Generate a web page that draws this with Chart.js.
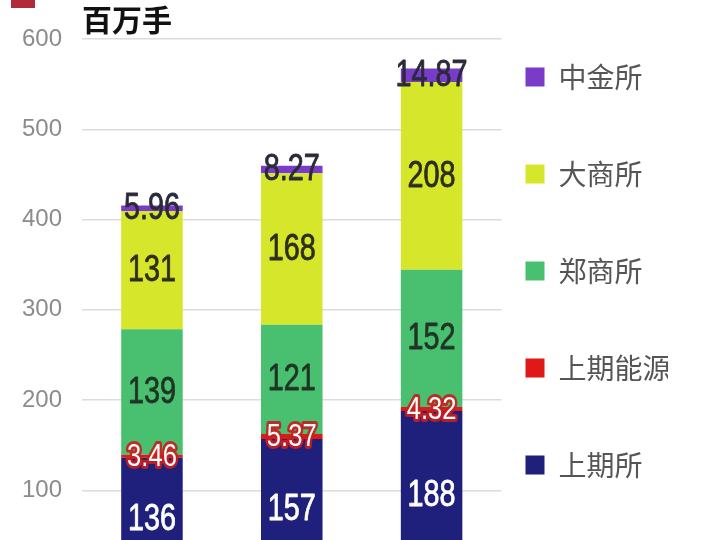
<!DOCTYPE html>
<html>
<head>
<meta charset="utf-8">
<script src="https://cdn.jsdelivr.net/npm/chart.js@4.4.1/dist/chart.umd.min.js"></script>
<style>
  html, body { margin: 0; padding: 0; background: #ffffff; overflow: hidden; }
  #wrap { position: relative; width: 720px; height: 615px; }
  #logo { position: absolute; left: 11px; top: 0; width: 24px; height: 8px; background: #b02a3a; z-index: 2; }
</style>
</head>
<body>
<div id="wrap">
  <div id="logo"></div>
  <canvas id="c" width="720" height="615"></canvas>
</div>
<script>
const categories = ['第一期', '第二期', '第三期'];
const seriesNames = ['上期所', '上期能源', '郑商所', '大商所', '中金所'];
const shfe = [136, 157, 188];
const ine = [3.46, 5.37, 4.32];
const czce = [139, 121, 152];
const dce = [131, 168, 208];
const cffex = [5.96, 8.27, 14.87];
const yTicks = [0, 100, 200, 300, 400, 500, 600];
const unitLabel = '百万手';

const colors = ['#1f1f7c', '#e01818', '#48c070', '#d6e62a', '#7a3cc8'];
const labelColors = ['#ffffff', '#ffffff', '#1f3424', '#2e2e1e', '#2a2a3a'];
const seriesValues = [shfe, ine, czce, dce, cffex];

const barLabels = {
  id: 'barLabels',
  afterDatasetsDraw(chart) {
    const ctx = chart.ctx;
    chart.data.datasets.forEach((ds, di) => {
      const meta = chart.getDatasetMeta(di);
      meta.data.forEach((el, i) => {
        const v = ds.data[i];
        const cx = el.x;
        const cy = (el.y + el.base) / 2;
        const txt = String(v);
        ctx.save();
        ctx.translate(cx, cy);
        ctx.scale(0.8, 1);
        ctx.textAlign = 'center';
        ctx.textBaseline = 'middle';
        const small = di === 1;
        ctx.font = (small ? '32px' : '36px') + " 'Liberation Sans', Arial, sans-serif";
        if (di === 1) {
          ctx.lineJoin = 'round';
          ctx.strokeStyle = 'rgba(200,30,30,0.9)';
          ctx.lineWidth = 6;
          ctx.strokeText(txt, 0, 1);
        } else {
          ctx.lineJoin = 'round';
          ctx.strokeStyle = labelColors[di];
          ctx.lineWidth = 0.8;
          ctx.strokeText(txt, 0, 1);
        }
        ctx.fillStyle = labelColors[di];
        ctx.fillText(txt, 0, 1);
        ctx.restore();
      });
    });
  }
};

new Chart(document.getElementById('c'), {
  type: 'bar',
  data: {
    labels: categories,
    datasets: seriesNames.map((n, i) => ({
      label: n,
      data: seriesValues[i],
      backgroundColor: colors[i],
      borderWidth: 0,
      categoryPercentage: 0.8,
      barPercentage: 0.55
    }))
  },
  options: {
    responsive: false,
    animation: false,
    layout: { padding: { left: 2, right: 52, top: 0, bottom: 0 } },
    scales: {
      x: {
        stacked: true,
        display: false,
        grid: { display: false }
      },
      y: {
        stacked: true,
        min: 0,
        max: 600,
        afterBuildTicks(axis) { axis.ticks = yTicks.map(v => ({ value: v })); },
        grid: { color: '#dcdcdc', lineWidth: 1.5, drawTicks: false },
        border: { display: false },
        ticks: {
          padding: 20,
          color: '#8c8c8c',
          font: { size: 24, family: "'Liberation Sans', Arial, sans-serif" }
        }
      }
    },
    plugins: {
      title: {
        display: true,
        text: unitLabel,
        align: 'start',
        fullSize: false,
        color: '#111111',
        font: { size: 30, weight: 'bold', family: "'Noto Sans CJK SC', sans-serif", lineHeight: 1.2 },
        padding: { top: 2, bottom: 1 }
      },
      legend: {
        position: 'right',
        align: 'start',
        fullSize: false,
        reverse: true,
        labels: {
          boxWidth: 19,
          boxHeight: 19,
          padding: 24,
          color: '#555555',
          font: { size: 28, family: "'Noto Sans CJK SC', sans-serif", lineHeight: 73 / 28 },
          generateLabels(chart) {
            const items = Chart.defaults.plugins.legend.labels.generateLabels(chart);
            items.forEach(it => { it.text = [it.text]; it.lineWidth = 0; });
            return items;
          }
        }
      },
      tooltip: { enabled: false }
    }
  },
  plugins: [barLabels]
});
</script>
</body>
</html>
